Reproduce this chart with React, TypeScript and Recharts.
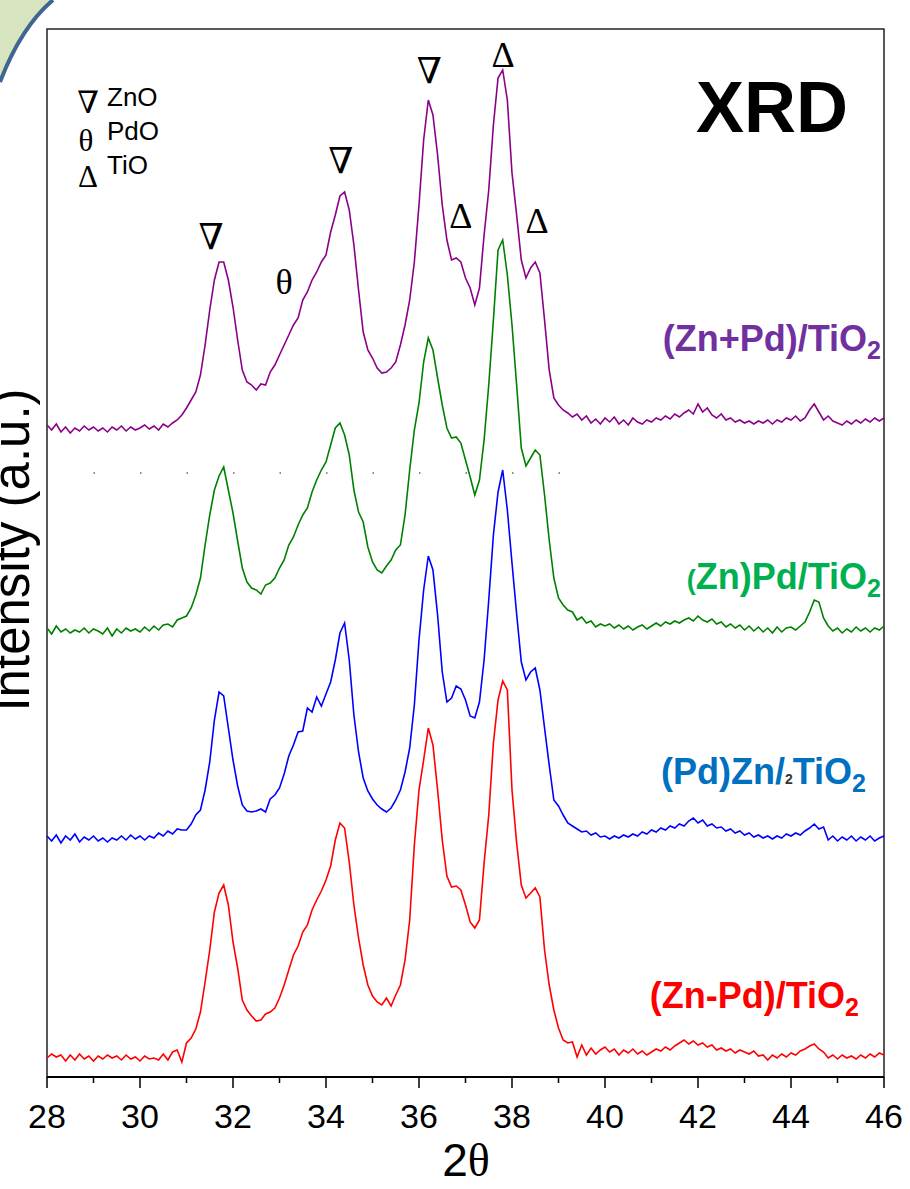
import { LineChart, Line, XAxis, YAxis, ReferenceArea, ReferenceDot, ReferenceLine } from "recharts";

// 2θ scan grid (degrees)
const TWO_THETA = [
  28.0, 28.1, 28.2, 28.3, 28.4, 28.5, 28.6, 28.7, 28.8, 28.9,
  29.0, 29.1, 29.2, 29.3, 29.4, 29.5, 29.6, 29.7, 29.8, 29.9,
  30.0, 30.1, 30.2, 30.3, 30.4, 30.5, 30.6, 30.7, 30.8, 30.9,
  31.0, 31.1, 31.2, 31.3, 31.4, 31.5, 31.6, 31.7, 31.8, 31.9,
  32.0, 32.1, 32.2, 32.3, 32.4, 32.5, 32.6, 32.7, 32.8, 32.9,
  33.0, 33.1, 33.2, 33.3, 33.4, 33.5, 33.6, 33.7, 33.8, 33.9,
  34.0, 34.1, 34.2, 34.3, 34.4, 34.5, 34.6, 34.7, 34.8, 34.9,
  35.0, 35.1, 35.2, 35.3, 35.4, 35.5, 35.6, 35.7, 35.8, 35.9,
  36.0, 36.1, 36.2, 36.3, 36.4, 36.5, 36.6, 36.7, 36.8, 36.9,
  37.0, 37.1, 37.2, 37.3, 37.4, 37.5, 37.6, 37.7, 37.8, 37.9,
  38.0, 38.1, 38.2, 38.3, 38.4, 38.5, 38.6, 38.7, 38.8, 38.9,
  39.0, 39.1, 39.2, 39.3, 39.4, 39.5, 39.6, 39.7, 39.8, 39.9,
  40.0, 40.1, 40.2, 40.3, 40.4, 40.5, 40.6, 40.7, 40.8, 40.9,
  41.0, 41.1, 41.2, 41.3, 41.4, 41.5, 41.6, 41.7, 41.8, 41.9,
  42.0, 42.1, 42.2, 42.3, 42.4, 42.5, 42.6, 42.7, 42.8, 42.9,
  43.0, 43.1, 43.2, 43.3, 43.4, 43.5, 43.6, 43.7, 43.8, 43.9,
  44.0, 44.1, 44.2, 44.3, 44.4, 44.5, 44.6, 44.7, 44.8, 44.9,
  45.0, 45.1, 45.2, 45.3, 45.4, 45.5, 45.6, 45.7, 45.8, 45.9,
  46.0,
];

// intensities above each pattern's own baseline (a.u.)
const ZN_PLUS_PD = [
  3, -2, 4, -4, 1, -5, 0, -3, 2, -2,
  1, -3, 0, -4, 1, -2, 2, -3, 1, -2,
  0, 3, -1, 2, -2, 4, 1, 5, 8, 13,
  20, 28, 36, 53, 83, 118, 148, 166, 166, 148,
  121, 88, 58, 46, 43, 38, 44, 43, 56, 63,
  73, 83, 93, 103, 110, 128, 136, 148, 156, 166,
  173, 196, 213, 232, 236, 218, 183, 138, 96, 78,
  70, 60, 55, 56, 60, 66, 83, 103, 128, 166,
  223, 288, 328, 313, 273, 223, 188, 168, 170, 166,
  150, 140, 123, 140, 193, 238, 303, 350, 358, 328,
  255, 213, 168, 150, 160, 166, 155, 108, 58, 30,
  23, 18, 15, 11, 14, 8, 12, 5, 9, 4,
  10, 6, 11, 4, 8, 3, 10, 6, 4, 8,
  6, 10, 8, 12, 9, 14, 11, 15, 18, 14,
  24, 16, 20, 13, 10, 14, 8, 10, 6, 8,
  5, 7, 4, 7, 5, 8, 4, 8, 6, 10,
  8, 12, 7, 10, 18, 24, 16, 8, 12, 7,
  5, 3, 7, 4, 8, 5, 9, 6, 10, 7,
  10,
];

const ZN_PD = [
  2, -4, 4, -2, 1, -3, 0, -2, 2, -3,
  1, -1, -4, 2, -6, 1, -3, 2, -1, 1,
  -2, 3, -1, 4, 0, 5, 6, 3, 10, 12,
  14, 22, 35, 52, 85, 115, 140, 154, 163, 140,
  117, 89, 62, 48, 42, 40, 36, 45, 47, 52,
  62, 70, 85, 93, 105, 115, 122, 138, 150, 160,
  168, 185, 202, 207, 195, 175, 140, 118, 108, 83,
  68, 60, 57, 64, 70, 80, 85, 115, 160, 200,
  227, 268, 292, 280, 252, 225, 202, 192, 193, 187,
  170, 153, 135, 150, 190, 245, 310, 380, 390, 355,
  305, 245, 182, 164, 172, 180, 175, 135, 90, 52,
  32, 25, 20, 18, 10, 13, 7, 9, 3, 6,
  4, 6, 2, 5, 1, 4, 0, 3, 5, 1,
  4, 7, 4, 8, 6, 9, 7, 10, 12, 9,
  14, 10, 8, 11, 6, 8, 3, 6, 2, 5,
  0, 4, -1, 3, -2, 2, -3, 3, -2, 2,
  3, 0, 4, 8, 18, 30, 28, 12, 4, -1,
  2, -3, 1, -2, 3, -1, 2, -2, 2, 0,
  4,
];

const PD_ZN = [
  2, -3, 3, -5, 2, -2, 4, -4, 1, -2,
  2, -3, 0, -4, 0, -2, 2, -2, 3, -1,
  2, -2, 2, 0, 5, 2, 7, 4, 9, 8,
  8, 14, 23, 28, 48, 76, 118, 146, 142, 110,
  78, 52, 33, 27, 26, 27, 29, 26, 39, 43,
  50, 64, 82, 93, 106, 107, 130, 126, 141, 132,
  144, 156, 178, 205, 215, 178, 123, 86, 60, 47,
  39, 33, 29, 26, 30, 38, 48, 66, 90, 133,
  198, 248, 282, 268, 223, 166, 136, 140, 152, 149,
  138, 122, 120, 136, 178, 238, 303, 346, 368, 328,
  275, 224, 176, 158, 166, 170, 148, 110, 73, 38,
  32, 23, 15, 12, 9, 6, 7, 3, 5, 1,
  2, -1, 2, 0, 3, 1, 4, 2, 6, 4,
  8, 6, 10, 8, 12, 10, 14, 12, 17, 20,
  15, 18, 12, 14, 10, 11, 7, 9, 5, 7,
  3, 5, 1, 3, 0, 2, -1, 2, 0, 4,
  2, 5, 3, 7, 10, 14, 9, 11, -2, 2,
  -3, 1, -2, 2, -3, 1, -2, 2, -3, 0,
  2,
];

const ZN_MINUS_PD = [
  0, 4, 1, 3, -3, 3, -2, 4, -1, 2,
  -3, 2, -1, 3, 0, 2, -2, 3, -1, 1,
  -3, 2, -1, 0, -2, 4, -2, 6, 8, -4,
  15, 20, 29, 46, 76, 108, 146, 165, 173, 153,
  116, 90, 58, 48, 42, 37, 38, 44, 46, 50,
  60, 73, 88, 103, 112, 126, 133, 148, 158, 167,
  178, 192, 218, 235, 230, 196, 153, 120, 93, 73,
  62, 56, 53, 60, 52, 63, 73, 98, 138, 213,
  268, 298, 330, 313, 268, 218, 182, 171, 172, 168,
  153, 136, 130, 138, 195, 243, 315, 358, 377, 368,
  268, 215, 173, 160, 165, 170, 161, 108, 73, 48,
  30, 18, 15, 16, 1, 13, 3, 10, 4, 8,
  11, 6, 9, 3, 8, 5, 9, 4, 7, 3,
  6, 9, 7, 11, 8, 12, 15, 18, 14, 17,
  13, 15, 11, 13, 8, 10, 7, 9, 5, 8,
  6, 4, 7, 2, 3, -2, 3, 0, 4, 1,
  5, 3, 7, 9, 12, 14, 9, 6, 0, 3,
  -1, 3, 0, 2, -1, 3, 0, 4, 1, 5,
  3,
];

// vertical stacking offsets of each pattern
const OFFSETS = { znPlusPd: 649, znPd: 447, pdZn: 239, znMinusPd: 19 };

const X_TICKS = [28, 29, 30, 31, 32, 33, 34, 35, 36, 37, 38, 39, 40, 41, 42, 43, 44, 45, 46];

const PEAK_MARKS = [
  { x: 31.53, y: 841, sym: "\u2207" },
  { x: 33.1, y: 796, sym: "\u03b8" },
  { x: 34.32, y: 917, sym: "\u2207" },
  { x: 36.22, y: 1007, sym: "\u2207" },
  { x: 36.9, y: 862, sym: "\u0394" },
  { x: 37.81, y: 1023, sym: "\u0394" },
  { x: 38.54, y: 857, sym: "\u0394" },
];

const rows = TWO_THETA.map((t, i) => ({
  t,
  znPlusPd: ZN_PLUS_PD[i] + OFFSETS.znPlusPd,
  znPd: ZN_PD[i] + OFFSETS.znPd,
  pdZn: PD_ZN[i] + OFFSETS.pdZn,
  znMinusPd: ZN_MINUS_PD[i] + OFFSETS.znMinusPd,
}));

const SANS = "'Liberation Sans', Arial, sans-serif";
const SERIF = "'Liberation Serif', 'DejaVu Serif', 'Times New Roman', serif";

const AxisTick = (props: any) => {
  const { x, y, payload } = props;
  const major = payload.value % 2 === 0;
  return (
    <g>
      <line x1={x} y1={y} x2={x} y2={y + (major ? 11 : 6)} stroke="#000" strokeWidth={1.5} />
      {major && (
        <text x={x} y={y + 51} textAnchor="middle" fontSize={34} fontFamily={SANS} fill="#000">
          {payload.value}
        </text>
      )}
    </g>
  );
};

const SampleLabel = ({ x, y, color, children }: any) => (
  <text x={x} y={y} textAnchor="end" fontSize={36} fontWeight="bold" fontFamily={SANS} fill={color}>
    {children}
    <tspan dy={8} fontSize={25}>2</tspan>
  </text>
);

export default function App() {
  return (
    <div style={{ position: "absolute", left: 0, top: 0, width: 910, height: 1189, background: "#fff" }}>
      <LineChart width={910} height={1189} data={rows} margin={{ top: 29, right: 26, bottom: 12, left: 47 }}>
        <ReferenceArea x1={28} x2={46} y1={0} y2={1048} fill="none" stroke="#222" strokeWidth={1.5} />
        <ReferenceLine
          segment={[{ x: 29, y: 604 }, { x: 40, y: 604 }]}
          stroke="#666"
          strokeWidth={1.5}
          strokeDasharray="1.5 45"
        />
        <XAxis
          dataKey="t"
          type="number"
          domain={[28, 46]}
          ticks={X_TICKS}
          interval={0}
          height={100}
          tickLine={false}
          tickSize={0}
          tickMargin={0}
          tick={<AxisTick />}
          axisLine={{ stroke: "#000", strokeWidth: 2 }}
        />
        <YAxis type="number" domain={[0, 1048]} width={0} tick={false} tickLine={false} axisLine={{ stroke: "#000", strokeWidth: 2 }} />
        <Line type="linear" dataKey="znMinusPd" stroke="#ff0000" strokeWidth={1.6} dot={false} isAnimationActive={false} />
        <Line type="linear" dataKey="pdZn" stroke="#0000ff" strokeWidth={1.6} dot={false} isAnimationActive={false} />
        <Line type="linear" dataKey="znPd" stroke="#008000" strokeWidth={1.6} dot={false} isAnimationActive={false} />
        <Line type="linear" dataKey="znPlusPd" stroke="#8b008b" strokeWidth={1.6} dot={false} isAnimationActive={false} />
        {PEAK_MARKS.map((m, i) => (
          <ReferenceDot
            key={i}
            x={m.x}
            y={m.y}
            r={0}
            fill="none"
            stroke="none"
            label={{ value: m.sym, position: "center", fontSize: 36, fill: "#000", fontFamily: SERIF }}
          />
        ))}
      </LineChart>

      <svg width={910} height={1189} style={{ position: "absolute", left: 0, top: 0, pointerEvents: "none" }}>
        <path d="M0,0 L53,0 Q21,27 0,82 Z" fill="#d7e4bd" />
        <path d="M53,0 Q21,27 0,82" fill="none" stroke="#3f6593" strokeWidth={4} />

        <text transform="rotate(-90)" x={-550} y={29} textAnchor="middle" fontSize={51} fontFamily={SANS} fill="#000">
          Intensity (a.u.)
        </text>
        <text x={466} y={1176} textAnchor="middle" fontSize={46} fill="#000">
          <tspan fontFamily={SANS}>2</tspan>
          <tspan fontFamily={SERIF}>{"\u03b8"}</tspan>
        </text>

        <text x={88} y={102} textAnchor="middle" dominantBaseline="central" fontSize={31} fontFamily={SERIF}>{"\u2207"}</text>
        <text x={107} y={106} fontSize={26} fontFamily={SANS}>ZnO</text>
        <text x={86} y={140} textAnchor="middle" dominantBaseline="central" fontSize={31} fontFamily={SERIF}>{"\u03b8"}</text>
        <text x={107} y={140} fontSize={26} fontFamily={SANS}>PdO</text>
        <text x={88} y={176} textAnchor="middle" dominantBaseline="central" fontSize={31} fontFamily={SERIF}>{"\u0394"}</text>
        <text x={107} y={174} fontSize={26} fontFamily={SANS}>TiO</text>

        <text x={848} y={132} textAnchor="end" fontSize={72} fontWeight="bold" fontFamily={SANS} fill="#000">XRD</text>

        <SampleLabel x={881} y={351} color="#7030a0">(Zn+Pd)/TiO</SampleLabel>
        <SampleLabel x={881} y={589} color="#00b050">
          <tspan fontSize={27}>(</tspan>Zn)Pd/TiO
        </SampleLabel>
        <SampleLabel x={866} y={784} color="#0070c0">
          (Pd)Zn/<tspan fontSize={14} fill="#333">2</tspan>TiO
        </SampleLabel>
        <SampleLabel x={859} y={1008} color="#ff0000">(Zn-Pd)/TiO</SampleLabel>
      </svg>
    </div>
  );
}
